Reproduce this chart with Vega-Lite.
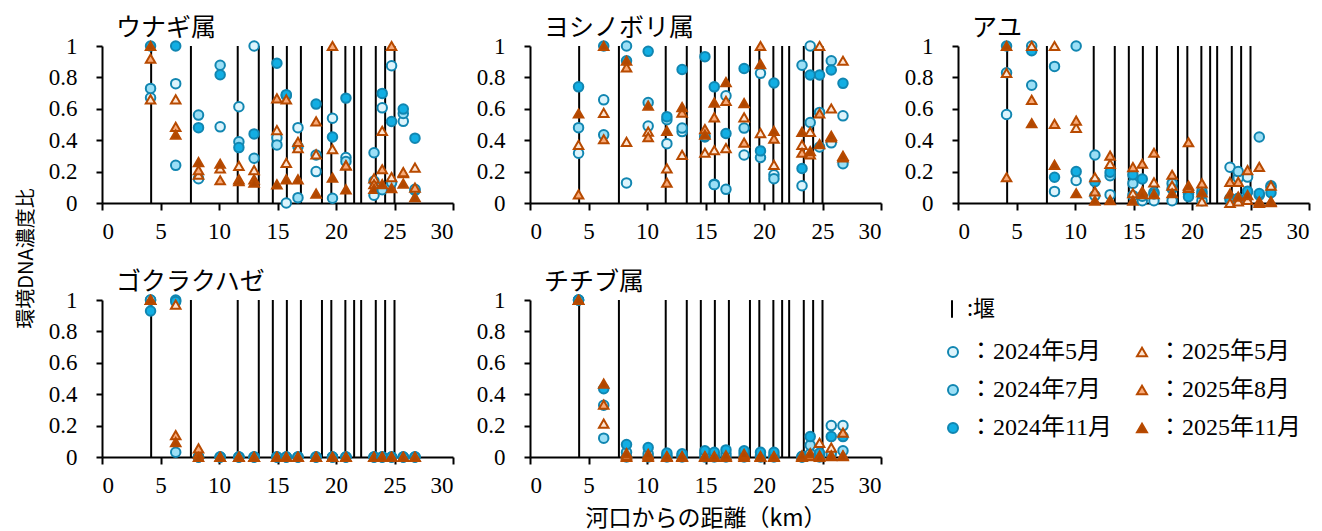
{
"$schema": "https://vega.github.io/schema/vega-lite/v6.json",
"background": "white",
"padding": {"left": 16, "top": 16, "right": 5, "bottom": 5},
"datasets": {
"weirs": [{"w":4.2},{"w":7.6},{"w":11.6},{"w":13.4},{"w":14.6},{"w":15.8},{"w":17.0},{"w":18.8},{"w":19.6},{"w":20.8},{"w":21.55},{"w":22.15},{"w":23.4},{"w":24.2},{"w":25.0}],
"obs": [
{"p":"ウナギ属","d":4.15,"2024年5月":0.67,"2024年7月":0.73,"2024年11月":1.0,"2025年5月":0.66,"2025年8月":0.92,"2025年11月":1.0},
{"p":"ウナギ属","d":6.3,"2024年5月":0.76,"2024年7月":0.24,"2024年11月":1.0,"2025年5月":0.66,"2025年8月":0.485,"2025年11月":0.435},
{"p":"ウナギ属","d":8.25,"2024年5月":0.155,"2024年7月":0.56,"2024年11月":0.48,"2025年5月":0.18,"2025年8月":0.21,"2025年11月":0.26},
{"p":"ウナギ属","d":10.1,"2024年5月":0.485,"2024年7月":0.877,"2024年11月":0.817,"2025年5月":0.22,"2025年8月":0.145,"2025年11月":0.25},
{"p":"ウナギ属","d":11.7,"2024年5月":0.613,"2024年7月":0.39,"2024年11月":0.353,"2025年5月":0.236,"2025年8月":0.15,"2025年11月":0.14},
{"p":"ウナギ属","d":13.0,"2024年5月":1.0,"2024年7月":0.285,"2024年11月":0.44,"2025年5月":0.21,"2025年8月":0.15,"2025年11月":0.13},
{"p":"ウナギ属","d":14.95,"2024年5月":0.415,"2024年7月":0.37,"2024年11月":0.89,"2025年5月":0.464,"2025年8月":0.666,"2025年11月":0.119},
{"p":"ウナギ属","d":15.75,"2024年5月":0.0,"2024年7月":0.685,"2024年11月":0.69,"2025年5月":0.255,"2025年8月":0.66,"2025年11月":0.151},
{"p":"ウナギ属","d":16.75,"2024年5月":0.48,"2024年7月":0.034,"2024年11月":0.36,"2025年5月":0.35,"2025年8月":0.39,"2025年11月":0.15},
{"p":"ウナギ属","d":18.3,"2024年5月":0.2,"2024年7月":0.306,"2024年11月":0.63,"2025年5月":0.31,"2025年8月":0.52,"2025年11月":0.06},
{"p":"ウナギ属","d":19.7,"2024年5月":0.54,"2024年7月":0.03,"2024年11月":0.42,"2025年5月":0.343,"2025年8月":1.0,"2025年11月":0.162},
{"p":"ウナギ属","d":20.85,"2024年5月":0.29,"2024年7月":0.264,"2024年11月":0.668,"2025年5月":0.24,"2025年8月":0.24,"2025年11月":0.087},
{"p":"ウナギ属","d":23.25,"2024年5月":0.05,"2024年7月":0.32,"2024年11月":0.14,"2025年5月":0.157,"2025年8月":0.12,"2025年11月":0.09},
{"p":"ウナギ属","d":23.95,"2024年5月":0.606,"2024年7月":0.085,"2024年11月":0.698,"2025年5月":0.46,"2025年8月":0.215,"2025年11月":0.12},
{"p":"ウナギ属","d":24.75,"2024年5月":0.874,"2024年7月":0.13,"2024年11月":0.519,"2025年5月":0.165,"2025年8月":1.0,"2025年11月":0.095},
{"p":"ウナギ属","d":25.75,"2024年5月":0.52,"2024年7月":0.57,"2024年11月":0.598,"2025年5月":0.19,"2025年8月":0.196,"2025年11月":0.124},
{"p":"ウナギ属","d":26.75,"2024年5月":0.08,"2024年7月":0.087,"2024年11月":0.413,"2025年5月":0.226,"2025年8月":0.098,"2025年11月":0.038},
{"p":"ヨシノボリ属","d":4.15,"2024年5月":0.317,"2024年7月":0.48,"2024年11月":0.74,"2025年5月":0.37,"2025年8月":0.055,"2025年11月":0.57},
{"p":"ヨシノボリ属","d":6.3,"2024年5月":0.657,"2024年7月":0.434,"2024年11月":1.0,"2025年5月":0.574,"2025年8月":0.406,"2025年11月":1.0},
{"p":"ヨシノボリ属","d":8.25,"2024年5月":0.128,"2024年7月":1.0,"2024年11月":0.906,"2025年5月":0.39,"2025年8月":0.864,"2025年11月":0.906},
{"p":"ヨシノボリ属","d":10.1,"2024年5月":0.49,"2024年7月":0.64,"2024年11月":0.966,"2025年5月":0.455,"2025年8月":0.42,"2025年11月":0.62},
{"p":"ヨシノボリ属","d":11.7,"2024年5月":0.378,"2024年7月":0.53,"2024年11月":0.55,"2025年5月":0.22,"2025年8月":0.13,"2025年11月":0.46},
{"p":"ヨシノボリ属","d":13.0,"2024年5月":0.455,"2024年7月":0.477,"2024年11月":0.85,"2025年5月":0.306,"2025年8月":0.575,"2025年11月":0.61},
{"p":"ヨシノボリ属","d":14.95,"2024年5月":0.42,"2024年7月":0.425,"2024年11月":0.932,"2025年5月":0.32,"2025年8月":0.47,"2025年11月":0.435},
{"p":"ヨシノボリ属","d":15.75,"2024年5月":0.12,"2024年7月":0.117,"2024年11月":0.74,"2025年5月":0.336,"2025年8月":0.545,"2025年11月":0.64},
{"p":"ヨシノボリ属","d":16.75,"2024年5月":0.683,"2024年7月":0.087,"2024年11月":0.443,"2025年5月":0.35,"2025年8月":0.65,"2025年11月":0.77},
{"p":"ヨシノボリ属","d":18.3,"2024年5月":0.306,"2024年7月":0.477,"2024年11月":0.857,"2025年5月":0.545,"2025年8月":0.385,"2025年11月":0.636},
{"p":"ヨシノボリ属","d":19.7,"2024年5月":0.826,"2024年7月":0.29,"2024年11月":0.332,"2025年5月":0.445,"2025年8月":1.0,"2025年11月":0.885},
{"p":"ヨシノボリ属","d":20.85,"2024年5月":0.18,"2024年7月":0.155,"2024年11月":0.764,"2025年5月":0.243,"2025年8月":0.41,"2025年11月":0.46},
{"p":"ヨシノボリ属","d":23.25,"2024年5月":0.11,"2024年7月":0.877,"2024年11月":0.22,"2025年5月":0.37,"2025年8月":0.32,"2025年11月":0.453},
{"p":"ヨシノボリ属","d":23.95,"2024年5月":1.0,"2024年7月":0.513,"2024年11月":0.815,"2025年5月":0.453,"2025年8月":0.31,"2025年11月":0.33},
{"p":"ヨシノボリ属","d":24.75,"2024年5月":0.357,"2024年7月":0.577,"2024年11月":0.815,"2025年5月":1.0,"2025年8月":0.57,"2025年11月":0.375},
{"p":"ヨシノボリ属","d":25.75,"2024年5月":0.383,"2024年7月":0.906,"2024年11月":0.847,"2025年5月":0.602,"2025年8月":0.418,"2025年11月":0.428},
{"p":"ヨシノボリ属","d":26.75,"2024年5月":0.555,"2024年7月":0.25,"2024年11月":0.762,"2025年5月":0.906,"2025年8月":0.29,"2025年11月":0.3},
{"p":"アユ","d":4.15,"2024年5月":0.564,"2024年7月":0.83,"2024年11月":1.0,"2025年5月":0.828,"2025年8月":0.164,"2025年11月":1.0},
{"p":"アユ","d":6.3,"2024年5月":1.0,"2024年7月":0.75,"2024年11月":0.97,"2025年5月":1.0,"2025年8月":0.657,"2025年11月":0.508},
{"p":"アユ","d":8.25,"2024年5月":0.074,"2024年7月":0.87,"2024年11月":0.164,"2025年5月":1.0,"2025年8月":0.504,"2025年11月":0.243},
{"p":"アユ","d":10.1,"2024年5月":0.143,"2024年7月":1.0,"2024年11月":0.2,"2025年5月":0.479,"2025年8月":0.525,"2025年11月":0.062},
{"p":"アユ","d":11.7,"2024年5月":0.047,"2024年7月":0.306,"2024年11月":0.136,"2025年5月":0.164,"2025年8月":0.074,"2025年11月":0.015},
{"p":"アユ","d":13.0,"2024年5月":0.053,"2024年7月":0.174,"2024年11月":0.196,"2025年5月":0.249,"2025年8月":0.302,"2025年11月":0.019},
{"p":"アユ","d":14.95,"2024年5月":0.047,"2024年7月":0.125,"2024年11月":0.18,"2025年5月":0.062,"2025年8月":0.228,"2025年11月":0.015},
{"p":"アユ","d":15.75,"2024年5月":0.015,"2024年7月":0.043,"2024年11月":0.153,"2025年5月":0.074,"2025年8月":0.25,"2025年11月":0.057},
{"p":"アユ","d":16.75,"2024年5月":0.015,"2024年7月":0.068,"2024年11月":0.057,"2025年5月":0.132,"2025年8月":0.32,"2025年11月":0.057},
{"p":"アユ","d":18.3,"2024年5月":0.015,"2024年7月":0.125,"2024年11月":0.09,"2025年5月":0.11,"2025年8月":0.18,"2025年11月":0.062},
{"p":"アユ","d":19.7,"2024年5月":0.068,"2024年7月":0.057,"2024年11月":0.04,"2025年5月":0.096,"2025年8月":0.387,"2025年11月":0.11},
{"p":"アユ","d":20.85,"2024年5月":0.015,"2024年7月":0.074,"2024年11月":0.057,"2025年5月":0.011,"2025年8月":0.125,"2025年11月":0.068},
{"p":"アユ","d":23.25,"2024年5月":0.228,"2024年7月":0.03,"2024年11月":0.02,"2025年5月":0.0,"2025年8月":0.135,"2025年11月":0.06},
{"p":"アユ","d":23.95,"2024年5月":0.16,"2024年7月":0.2,"2024年11月":0.03,"2025年5月":0.01,"2025年8月":0.135,"2025年11月":0.04},
{"p":"アユ","d":24.75,"2024年5月":0.165,"2024年7月":0.07,"2024年11月":0.075,"2025年5月":0.02,"2025年8月":0.21,"2025年11月":0.05},
{"p":"アユ","d":25.75,"2024年5月":0.05,"2024年7月":0.42,"2024年11月":0.06,"2025年5月":0.0,"2025年8月":0.23,"2025年11月":0.01},
{"p":"アユ","d":26.75,"2024年5月":0.11,"2024年7月":0.1,"2024年11月":0.065,"2025年5月":0.11,"2025年8月":0.005,"2025年11月":0.01},
{"p":"ゴクラクハゼ","d":4.15,"2024年5月":1.0,"2024年7月":1.0,"2024年11月":0.93,"2025年5月":1.0,"2025年8月":1.0,"2025年11月":1.0},
{"p":"ゴクラクハゼ","d":6.3,"2024年5月":1.0,"2024年7月":0.03,"2024年11月":0.99,"2025年5月":0.97,"2025年8月":0.14,"2025年11月":0.095},
{"p":"ゴクラクハゼ","d":8.25,"2024年5月":0,"2024年7月":0,"2024年11月":0,"2025年5月":0.02,"2025年8月":0.055,"2025年11月":0},
{"p":"ゴクラクハゼ","d":10.1,"2024年5月":0,"2024年7月":0,"2024年11月":0,"2025年5月":0,"2025年8月":0,"2025年11月":0},
{"p":"ゴクラクハゼ","d":11.7,"2024年5月":0,"2024年7月":0,"2024年11月":0,"2025年5月":0,"2025年8月":0,"2025年11月":0},
{"p":"ゴクラクハゼ","d":13.0,"2024年5月":0,"2024年7月":0,"2024年11月":0,"2025年5月":0,"2025年8月":0,"2025年11月":0},
{"p":"ゴクラクハゼ","d":14.95,"2024年5月":0,"2024年7月":0,"2024年11月":0,"2025年5月":0,"2025年8月":0,"2025年11月":0},
{"p":"ゴクラクハゼ","d":15.75,"2024年5月":0,"2024年7月":0,"2024年11月":0,"2025年5月":0,"2025年8月":0,"2025年11月":0},
{"p":"ゴクラクハゼ","d":16.75,"2024年5月":0,"2024年7月":0,"2024年11月":0,"2025年5月":0,"2025年8月":0,"2025年11月":0},
{"p":"ゴクラクハゼ","d":18.3,"2024年5月":0,"2024年7月":0,"2024年11月":0,"2025年5月":0,"2025年8月":0,"2025年11月":0},
{"p":"ゴクラクハゼ","d":19.7,"2024年5月":0,"2024年7月":0,"2024年11月":0,"2025年5月":0,"2025年8月":0,"2025年11月":0},
{"p":"ゴクラクハゼ","d":20.85,"2024年5月":0,"2024年7月":0,"2024年11月":0,"2025年5月":0,"2025年8月":0,"2025年11月":0},
{"p":"ゴクラクハゼ","d":23.25,"2024年5月":0,"2024年7月":0,"2024年11月":0,"2025年5月":0,"2025年8月":0,"2025年11月":0},
{"p":"ゴクラクハゼ","d":23.95,"2024年5月":0,"2024年7月":0,"2024年11月":0,"2025年5月":0,"2025年8月":0,"2025年11月":0},
{"p":"ゴクラクハゼ","d":24.75,"2024年5月":0,"2024年7月":0,"2024年11月":0,"2025年5月":0,"2025年8月":0,"2025年11月":0},
{"p":"ゴクラクハゼ","d":25.75,"2024年5月":0,"2024年7月":0,"2024年11月":0,"2025年5月":0,"2025年8月":0,"2025年11月":0},
{"p":"ゴクラクハゼ","d":26.75,"2024年5月":0,"2024年7月":0,"2024年11月":0,"2025年5月":0,"2025年8月":0,"2025年11月":0},
{"p":"チチブ属","d":4.15,"2024年5月":1.0,"2024年7月":1.0,"2024年11月":1.0,"2025年5月":1.0,"2025年8月":1.0,"2025年11月":1.0},
{"p":"チチブ属","d":6.3,"2024年5月":0.33,"2024年7月":0.12,"2024年11月":0.435,"2025年5月":0.213,"2025年8月":0.334,"2025年11月":0.468},
{"p":"チチブ属","d":8.25,"2024年5月":0.0,"2024年7月":0.03,"2024年11月":0.08,"2025年5月":0.0,"2025年8月":0.01,"2025年11月":0.025},
{"p":"チチブ属","d":10.1,"2024年5月":0.0,"2024年7月":0.02,"2024年11月":0.06,"2025年5月":0.0,"2025年8月":0.01,"2025年11月":0.02},
{"p":"チチブ属","d":11.7,"2024年5月":0,"2024年7月":0.01,"2024年11月":0.025,"2025年5月":0,"2025年8月":0,"2025年11月":0.005},
{"p":"チチブ属","d":13.0,"2024年5月":0,"2024年7月":0.01,"2024年11月":0.02,"2025年5月":0,"2025年8月":0,"2025年11月":0.005},
{"p":"チチブ属","d":14.95,"2024年5月":0,"2024年7月":0.02,"2024年11月":0.04,"2025年5月":0,"2025年8月":0,"2025年11月":0.005},
{"p":"チチブ属","d":15.75,"2024年5月":0,"2024年7月":0.01,"2024年11月":0.03,"2025年5月":0,"2025年8月":0,"2025年11月":0.005},
{"p":"チチブ属","d":16.75,"2024年5月":0,"2024年7月":0.02,"2024年11月":0.045,"2025年5月":0,"2025年8月":0,"2025年11月":0.01},
{"p":"チチブ属","d":18.3,"2024年5月":0,"2024年7月":0.02,"2024年11月":0.04,"2025年5月":0,"2025年8月":0.01,"2025年11月":0.02},
{"p":"チチブ属","d":19.7,"2024年5月":0,"2024年7月":0.01,"2024年11月":0.03,"2025年5月":0,"2025年8月":0,"2025年11月":0.005},
{"p":"チチブ属","d":20.85,"2024年5月":0,"2024年7月":0.01,"2024年11月":0.03,"2025年5月":0,"2025年8月":0,"2025年11月":0.005},
{"p":"チチブ属","d":23.25,"2024年5月":0,"2024年7月":0,"2024年11月":0.005,"2025年5月":0,"2025年8月":0,"2025年11月":0.01},
{"p":"チチブ属","d":23.95,"2024年5月":0.02,"2024年7月":0.075,"2024年11月":0.13,"2025年5月":0.005,"2025年8月":0.01,"2025年11月":0.025},
{"p":"チチブ属","d":24.75,"2024年5月":0.0,"2024年7月":0.01,"2024年11月":0.025,"2025年5月":0.09,"2025年8月":0.01,"2025年11月":0.0},
{"p":"チチブ属","d":25.75,"2024年5月":0.2,"2024年7月":0.02,"2024年11月":0.13,"2025年5月":0.06,"2025年8月":0.01,"2025年11月":0.005},
{"p":"チチブ属","d":26.75,"2024年5月":0.2,"2024年7月":0.04,"2024年11月":0.13,"2025年5月":0.01,"2025年8月":0.155,"2025年11月":0.005}
]
},
"config": {
"view": {"stroke": null},
"font": "Liberation Serif",
"axis": {"domainColor": "black", "domainWidth": 2, "tickColor": "black", "tickWidth": 2, "grid": false, "labelOverlap": false, "labelFont": "Liberation Serif, Times New Roman, serif", "labelFontSize": 23, "labelColor": "black", "titleFont": "Noto Sans CJK JP", "titleFontSize": 22, "titleFontWeight": "normal", "titleColor": "black"},
"axisX": {"labelPadding": 10, "tickSize": 7},
"axisY": {"labelPadding": 19, "tickSize": 6},
"title": {"font": "Noto Sans CJK JP", "fontSize": 25, "fontWeight": "normal", "anchor": "start", "frame": "group", "dx": 14, "offset": -6, "color": "black"}
},
"columns": 3,
"spacing": {"row": 97, "column": 77},
"bounds": "flush",
"concat": [
{"width": 351, "height": 157, "title": {"text": "ウナギ属"},
"layer": [
{"data": {"name": "weirs"}, "mark": {"type": "rule", "strokeWidth": 2},
"encoding": {
"x": {"field": "w", "type": "quantitative", "scale": {"domain": [0, 30]}, "axis": {"title": null, "labelOverlap": false, "values": [0,5,10,15,20,25,30]}},
"y": {"datum": 0, "type": "quantitative", "scale": {"domain": [0, 1]}, "axis": {"title": "環境DNA濃度比", "titleX": -76, "titleY": 212, "titleBaseline": "middle", "titleAlign": "center", "titleFontSize": 20, "labelOverlap": false, "values": [0,0.2,0.4,0.6,0.8,1], "format": "~g"}},
"y2": {"datum": 1},
"color": {"datum": "堰", "type": "nominal", "scale": {"range": ["black"]}, "legend": {"title": null, "orient": "none", "legendX": 839, "legendY": 252, "symbolType": "M0,-1L0,1", "symbolSize": 300, "symbolStrokeWidth": 2, "symbolStrokeColor": "black", "labelFont": "Noto Sans CJK JP", "labelFontSize": 22, "labelColor": "black", "labelExpr": "':' + datum.label"}}
}},
{"data": {"name": "obs"}, "transform": [{"filter": "datum.p === 'ウナギ属'"}, {"fold": ["2024年5月","2024年7月","2024年11月","2025年5月","2025年8月","2025年11月"], "as": ["s","v"]}],
"mark": {"type": "point", "filled": true, "size": 90, "strokeWidth": 2, "opacity": 1},
"encoding": {
"x": {"field": "d", "type": "quantitative", "title": null, "axis": {"labelOverlap": false, "values": [0,5,10,15,20,25,30]}},
"y": {"field": "v", "type": "quantitative", "title": "環境DNA濃度比", "axis": {"labelOverlap": false, "values": [0,0.2,0.4,0.6,0.8,1], "format": "~g"}},
"shape": {"field": "s", "type": "nominal", "scale": {"domain": ["2024年5月","2024年7月","2024年11月","2025年5月","2025年8月","2025年11月"], "range": ["circle","circle","circle","triangle-up","triangle-up","triangle-up"]}, "legend": {"title": null, "orient": "none", "legendX": 839, "legendY": 294, "columns": 2, "columnPadding": 17, "rowPadding": 14, "labelFont": "Liberation Serif, Times New Roman, Noto Sans CJK JP", "labelFontSize": 24, "labelColor": "black", "labelExpr": "'：' + datum.label", "labelLimit": 300, "symbolSize": 100, "symbolStrokeWidth": 2, "symbolStrokeColor": "#1F2A55", "labelOffset": 4, "encode": {"symbols": {"update": {"stroke": {"value": "#1F2A55"}, "strokeWidth": {"value": 2}}}}}},
"fill": {"field": "s", "type": "nominal", "scale": {"domain": ["2024年5月","2024年7月","2024年11月","2025年5月","2025年8月","2025年11月"], "range": ["#DDF4FC","#9BDFF6","#12AEE3","#FDE4D2","#F8AA78","#B04700"]}, "legend": {"title": null, "orient": "none", "legendX": 839, "legendY": 294, "columns": 2, "columnPadding": 17, "rowPadding": 14, "labelFont": "Liberation Serif, Times New Roman, Noto Sans CJK JP", "labelFontSize": 24, "labelColor": "black", "labelExpr": "'：' + datum.label", "labelLimit": 300, "symbolSize": 100, "symbolStrokeWidth": 2, "symbolStrokeColor": "#1F2A55", "labelOffset": 4, "encode": {"symbols": {"update": {"stroke": {"value": "#1F2A55"}, "strokeWidth": {"value": 2}}}}}},
"stroke": {"field": "s", "type": "nominal", "scale": {"domain": ["2024年5月","2024年7月","2024年11月","2025年5月","2025年8月","2025年11月"], "range": ["#1186B1","#1186B1","#1186B1","#B84A00","#B84A00","#B84A00"]}, "legend": null}
}}
]},
{"width": 351, "height": 157, "title": {"text": "ヨシノボリ属"},
"layer": [
{"data": {"name": "weirs"}, "mark": {"type": "rule", "strokeWidth": 2},
"encoding": {
"x": {"field": "w", "type": "quantitative", "scale": {"domain": [0, 30]}, "axis": {"title": null, "labelOverlap": false, "values": [0,5,10,15,20,25,30]}},
"y": {"datum": 0, "type": "quantitative", "scale": {"domain": [0, 1]}, "axis": {"title": null, "labelOverlap": false, "values": [0,0.2,0.4,0.6,0.8,1], "format": "~g"}},
"y2": {"datum": 1},
"color": {"datum": "堰", "type": "nominal", "scale": {"range": ["black"]}}
}},
{"data": {"name": "obs"}, "transform": [{"filter": "datum.p === 'ヨシノボリ属'"}, {"fold": ["2024年5月","2024年7月","2024年11月","2025年5月","2025年8月","2025年11月"], "as": ["s","v"]}],
"mark": {"type": "point", "filled": true, "size": 90, "strokeWidth": 2, "opacity": 1},
"encoding": {
"x": {"field": "d", "type": "quantitative", "title": null, "axis": {"labelOverlap": false, "values": [0,5,10,15,20,25,30]}},
"y": {"field": "v", "type": "quantitative", "title": null, "axis": {"labelOverlap": false, "values": [0,0.2,0.4,0.6,0.8,1], "format": "~g"}},
"shape": {"field": "s", "type": "nominal", "scale": {"domain": ["2024年5月","2024年7月","2024年11月","2025年5月","2025年8月","2025年11月"], "range": ["circle","circle","circle","triangle-up","triangle-up","triangle-up"]}},
"fill": {"field": "s", "type": "nominal", "scale": {"domain": ["2024年5月","2024年7月","2024年11月","2025年5月","2025年8月","2025年11月"], "range": ["#DDF4FC","#9BDFF6","#12AEE3","#FDE4D2","#F8AA78","#B04700"]}},
"stroke": {"field": "s", "type": "nominal", "scale": {"domain": ["2024年5月","2024年7月","2024年11月","2025年5月","2025年8月","2025年11月"], "range": ["#1186B1","#1186B1","#1186B1","#B84A00","#B84A00","#B84A00"]}, "legend": null}
}}
]},
{"width": 351, "height": 157, "title": {"text": "アユ"},
"layer": [
{"data": {"name": "weirs"}, "mark": {"type": "rule", "strokeWidth": 2},
"encoding": {
"x": {"field": "w", "type": "quantitative", "scale": {"domain": [0, 30]}, "axis": {"title": null, "labelOverlap": false, "values": [0,5,10,15,20,25,30]}},
"y": {"datum": 0, "type": "quantitative", "scale": {"domain": [0, 1]}, "axis": {"title": null, "labelOverlap": false, "values": [0,0.2,0.4,0.6,0.8,1], "format": "~g"}},
"y2": {"datum": 1},
"color": {"datum": "堰", "type": "nominal", "scale": {"range": ["black"]}}
}},
{"data": {"name": "obs"}, "transform": [{"filter": "datum.p === 'アユ'"}, {"fold": ["2024年5月","2024年7月","2024年11月","2025年5月","2025年8月","2025年11月"], "as": ["s","v"]}],
"mark": {"type": "point", "filled": true, "size": 90, "strokeWidth": 2, "opacity": 1},
"encoding": {
"x": {"field": "d", "type": "quantitative", "title": null, "axis": {"labelOverlap": false, "values": [0,5,10,15,20,25,30]}},
"y": {"field": "v", "type": "quantitative", "title": null, "axis": {"labelOverlap": false, "values": [0,0.2,0.4,0.6,0.8,1], "format": "~g"}},
"shape": {"field": "s", "type": "nominal", "scale": {"domain": ["2024年5月","2024年7月","2024年11月","2025年5月","2025年8月","2025年11月"], "range": ["circle","circle","circle","triangle-up","triangle-up","triangle-up"]}},
"fill": {"field": "s", "type": "nominal", "scale": {"domain": ["2024年5月","2024年7月","2024年11月","2025年5月","2025年8月","2025年11月"], "range": ["#DDF4FC","#9BDFF6","#12AEE3","#FDE4D2","#F8AA78","#B04700"]}},
"stroke": {"field": "s", "type": "nominal", "scale": {"domain": ["2024年5月","2024年7月","2024年11月","2025年5月","2025年8月","2025年11月"], "range": ["#1186B1","#1186B1","#1186B1","#B84A00","#B84A00","#B84A00"]}, "legend": null}
}}
]},
{"width": 351, "height": 157, "title": {"text": "ゴクラクハゼ"},
"layer": [
{"data": {"name": "weirs"}, "mark": {"type": "rule", "strokeWidth": 2},
"encoding": {
"x": {"field": "w", "type": "quantitative", "scale": {"domain": [0, 30]}, "axis": {"title": null, "labelOverlap": false, "values": [0,5,10,15,20,25,30]}},
"y": {"datum": 0, "type": "quantitative", "scale": {"domain": [0, 1]}, "axis": {"title": null, "labelOverlap": false, "values": [0,0.2,0.4,0.6,0.8,1], "format": "~g"}},
"y2": {"datum": 1},
"color": {"datum": "堰", "type": "nominal", "scale": {"range": ["black"]}}
}},
{"data": {"name": "obs"}, "transform": [{"filter": "datum.p === 'ゴクラクハゼ'"}, {"fold": ["2024年5月","2024年7月","2024年11月","2025年5月","2025年8月","2025年11月"], "as": ["s","v"]}],
"mark": {"type": "point", "filled": true, "size": 90, "strokeWidth": 2, "opacity": 1},
"encoding": {
"x": {"field": "d", "type": "quantitative", "title": null, "axis": {"labelOverlap": false, "values": [0,5,10,15,20,25,30]}},
"y": {"field": "v", "type": "quantitative", "title": null, "axis": {"labelOverlap": false, "values": [0,0.2,0.4,0.6,0.8,1], "format": "~g"}},
"shape": {"field": "s", "type": "nominal", "scale": {"domain": ["2024年5月","2024年7月","2024年11月","2025年5月","2025年8月","2025年11月"], "range": ["circle","circle","circle","triangle-up","triangle-up","triangle-up"]}},
"fill": {"field": "s", "type": "nominal", "scale": {"domain": ["2024年5月","2024年7月","2024年11月","2025年5月","2025年8月","2025年11月"], "range": ["#DDF4FC","#9BDFF6","#12AEE3","#FDE4D2","#F8AA78","#B04700"]}},
"stroke": {"field": "s", "type": "nominal", "scale": {"domain": ["2024年5月","2024年7月","2024年11月","2025年5月","2025年8月","2025年11月"], "range": ["#1186B1","#1186B1","#1186B1","#B84A00","#B84A00","#B84A00"]}, "legend": null}
}}
]},
{"width": 351, "height": 157, "title": {"text": "チチブ属"},
"layer": [
{"data": {"name": "weirs"}, "mark": {"type": "rule", "strokeWidth": 2},
"encoding": {
"x": {"field": "w", "type": "quantitative", "scale": {"domain": [0, 30]}, "axis": {"title": "河口からの距離（km）", "titlePadding": 10, "titleFontSize": 23, "labelOverlap": false, "values": [0,5,10,15,20,25,30]}},
"y": {"datum": 0, "type": "quantitative", "scale": {"domain": [0, 1]}, "axis": {"title": null, "labelOverlap": false, "values": [0,0.2,0.4,0.6,0.8,1], "format": "~g"}},
"y2": {"datum": 1},
"color": {"datum": "堰", "type": "nominal", "scale": {"range": ["black"]}}
}},
{"data": {"name": "obs"}, "transform": [{"filter": "datum.p === 'チチブ属'"}, {"fold": ["2024年5月","2024年7月","2024年11月","2025年5月","2025年8月","2025年11月"], "as": ["s","v"]}],
"mark": {"type": "point", "filled": true, "size": 90, "strokeWidth": 2, "opacity": 1},
"encoding": {
"x": {"field": "d", "type": "quantitative", "title": "河口からの距離（km）", "axis": {"labelOverlap": false, "values": [0,5,10,15,20,25,30]}},
"y": {"field": "v", "type": "quantitative", "title": null, "axis": {"labelOverlap": false, "values": [0,0.2,0.4,0.6,0.8,1], "format": "~g"}},
"shape": {"field": "s", "type": "nominal", "scale": {"domain": ["2024年5月","2024年7月","2024年11月","2025年5月","2025年8月","2025年11月"], "range": ["circle","circle","circle","triangle-up","triangle-up","triangle-up"]}},
"fill": {"field": "s", "type": "nominal", "scale": {"domain": ["2024年5月","2024年7月","2024年11月","2025年5月","2025年8月","2025年11月"], "range": ["#DDF4FC","#9BDFF6","#12AEE3","#FDE4D2","#F8AA78","#B04700"]}},
"stroke": {"field": "s", "type": "nominal", "scale": {"domain": ["2024年5月","2024年7月","2024年11月","2025年5月","2025年8月","2025年11月"], "range": ["#1186B1","#1186B1","#1186B1","#B84A00","#B84A00","#B84A00"]}, "legend": null}
}}
]}
]
}
